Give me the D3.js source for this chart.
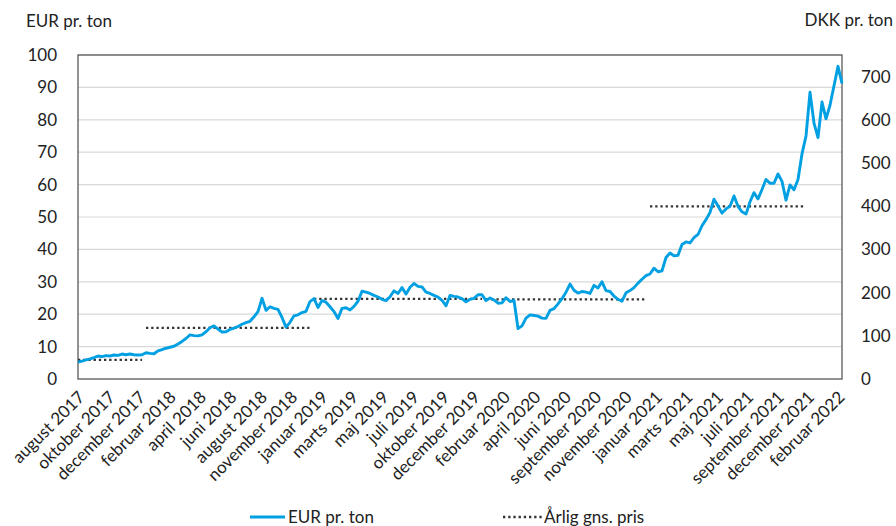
<!DOCTYPE html>
<html>
<head>
<meta charset="utf-8">
<script src="https://cdn.jsdelivr.net/npm/d3@7"></script>
<style>
  body { margin: 0; background: #fff; }
  svg text { font-family: Lato, "Open Sans", sans-serif; fill: #222; }
</style>
</head>
<body>
<svg id="chart" width="896" height="526"></svg>
<script>
// month labels on the category axis (one label every labelStep points)
var categories = ["august 2017", "oktober 2017", "december 2017", "februar 2018", "april 2018",
  "juni 2018", "august 2018", "november 2018", "januar 2019", "marts 2019", "maj 2019",
  "juli 2019", "oktober 2019", "december 2019", "februar 2020", "april 2020", "juni 2020",
  "september 2020", "november 2020", "januar 2021", "marts 2021", "maj 2021", "juli 2021",
  "september 2021", "december 2021", "februar 2022"];
var labelStep = 7.6;

// EUR pr. ton
var eurValues = [
  5.2, 5.5, 5.9, 6.2, 6.6, 7.1, 6.9, 7.2, 7.1, 7.4,
  7.3, 7.7, 7.5, 7.7, 7.5, 7.4, 7.5, 8.1, 7.9, 7.8,
  8.7, 9.1, 9.5, 9.8, 10.1, 10.8, 11.6, 12.5, 13.6, 13.4,
  13.3, 13.6, 14.6, 15.8, 16.4, 15.4, 14.5, 14.6, 15.3, 15.7,
  16.2, 16.9, 17.4, 17.8, 19.2, 20.8, 24.9, 21.2, 22.3, 21.8,
  21.5, 19.0, 16.0, 17.5, 19.5, 19.8, 20.5, 20.9, 23.9, 24.8,
  22.1, 24.2, 23.7, 22.3, 20.8, 18.7, 21.8, 22.0, 21.3, 22.4,
  24.0, 27.1, 26.8, 26.4, 25.8, 25.3, 24.6, 24.2, 25.4, 27.2,
  26.4, 28.2, 26.2, 28.3, 29.5, 28.6, 28.4, 26.8, 26.4, 25.8,
  25.3, 24.3, 22.6, 25.8, 25.5, 25.3, 24.8, 23.8, 24.6, 24.9,
  26.0, 26.0, 24.2, 25.0, 24.4, 23.4, 23.5, 25.1, 23.9, 24.3,
  15.6, 16.4, 18.8, 19.8, 19.6, 19.4, 18.8, 18.7, 21.2, 21.7,
  23.2, 24.8, 26.8, 29.3, 27.4, 26.5, 27.0, 26.8, 26.4, 28.9,
  28.1, 30.0, 27.3, 27.0, 25.6, 24.6, 24.0, 26.6, 27.3, 28.2,
  29.6, 30.8, 31.9, 32.4, 34.2, 33.1, 33.4, 37.5, 38.9, 38.0,
  38.2, 41.5, 42.3, 42.0, 43.6, 44.6, 47.3, 49.2, 51.4, 55.5,
  53.4, 51.2, 52.5, 53.3, 56.5, 53.3, 51.6, 50.9, 54.7, 57.5,
  55.6, 58.5, 61.6, 60.4, 60.4, 63.3, 61.0, 55.2, 59.9, 58.4,
  61.6, 69.5, 75.0, 88.5, 79.0, 74.5, 85.5, 80.3, 84.5, 90.5,
  96.5, 91.2
];

// yearly average price, with first and last point of each year
var avgYears = ["2017", "2018", "2019", "2020", "2021"];
var avgValues = [5.9, 15.8, 24.7, 24.6, 53.3];
var avgStart = [0, 17, 59, 102, 143];
var avgEnd = [16, 58, 101, 142, 182];

var eurTicks = d3.range(0, 101, 10);
var dkkTicks = d3.range(0, 701, 100);

var svg = d3.select("svg#chart"),
  margin = {top: 55, left: 78, bottom: 147, right: 54},
  width = 896,
  height = 526;

var x = d3.scaleLinear()
  .domain([0, eurValues.length - 1])
  .range([margin.left, width - margin.right]);

var y = d3.scaleLinear()
  .domain([0, 100])
  .range([height - margin.bottom, margin.top]);

var yDkk = d3.scaleLinear()
  .domain([0, 750])
  .range([height - margin.bottom, margin.top]);

// gridlines
svg.append("g")
  .selectAll("line")
  .data(eurTicks.slice(1))
  .enter().append("line")
  .attr("x1", margin.left)
  .attr("x2", width - margin.right)
  .attr("y1", d => y(d))
  .attr("y2", d => y(d))
  .attr("stroke", "#d9d9d9")
  .attr("stroke-width", 1.2);

// plot frame
svg.append("rect")
  .attr("x", margin.left)
  .attr("y", margin.top)
  .attr("width", width - margin.right - margin.left)
  .attr("height", height - margin.bottom - margin.top)
  .attr("fill", "none")
  .attr("stroke", "#595959")
  .attr("stroke-width", 1.3);

var leftAxis = svg.append("g")
  .attr("transform", translate(margin.left, 0))
  .call(d3.axisLeft(y).tickValues(eurTicks).tickSize(0).tickPadding(21));

var rightAxis = svg.append("g")
  .attr("transform", translate(width - margin.right, 0))
  .call(d3.axisRight(yDkk).tickValues(dkkTicks).tickSize(0).tickPadding(19));

var xAxis = svg.append("g")
  .attr("transform", translate(0, height - margin.bottom))
  .call(d3.axisBottom(x)
    .tickValues(categories.map((c, i) => i * labelStep))
    .tickFormat((d, i) => categories[i])
    .tickSize(0));

svg.selectAll(".domain").remove();
svg.selectAll(".tick text").style("font-size", "17px");

xAxis.selectAll(".tick text")
  .attr("text-anchor", "end")
  .attr("y", 0)
  .attr("dy", "0.35em")
  .attr("transform", "translate(3,15) rotate(-45)");

// yearly averages
var avgLine = d3.line()
  .x(d => x(d[0]))
  .y(d => y(d[1]));

svg.append("g")
  .selectAll("path")
  .data(avgYears.map((yr, i) => [[avgStart[i], avgValues[i]], [avgEnd[i], avgValues[i]]]))
  .enter().append("path")
  .attr("d", avgLine)
  .attr("fill", "none")
  .attr("stroke", "#333")
  .attr("stroke-width", 2.3)
  .attr("stroke-dasharray", "2.3,2.9");

// price line
var priceLine = d3.line()
  .x((d, i) => x(i))
  .y(d => y(d));

svg.append("path")
  .datum(eurValues)
  .attr("d", priceLine)
  .attr("fill", "none")
  .attr("stroke", "#00a0e3")
  .attr("stroke-width", 2.9)
  .attr("stroke-linejoin", "round");

// axis titles
svg.append("text")
  .attr("x", 26)
  .attr("y", 27)
  .style("font-size", "17px")
  .text("EUR pr. ton");

svg.append("text")
  .attr("x", 893)
  .attr("y", 26)
  .attr("text-anchor", "end")
  .style("font-size", "17px")
  .text("DKK pr. ton");

// legend
var legend = svg.append("g").attr("transform", translate(0, 517));

legend.append("line")
  .attr("x1", 250).attr("x2", 285)
  .attr("stroke", "#00a0e3")
  .attr("stroke-width", 2.9);
legend.append("text")
  .attr("x", 288).attr("dy", "0.35em")
  .style("font-size", "17px")
  .text("EUR pr. ton");

legend.append("line")
  .attr("x1", 503).attr("x2", 542)
  .attr("stroke", "#333")
  .attr("stroke-width", 2.3)
  .attr("stroke-dasharray", "2.3,2.9");
legend.append("text")
  .attr("x", 544).attr("dy", "0.35em")
  .style("font-size", "17px")
  .text("Årlig gns. pris");

/*
 * returns a translate string for the transform attribute
 */
function translate(x, y) {
  return 'translate(' + String(x) + ',' + String(y) + ')';
}
</script>
</body>
</html>
